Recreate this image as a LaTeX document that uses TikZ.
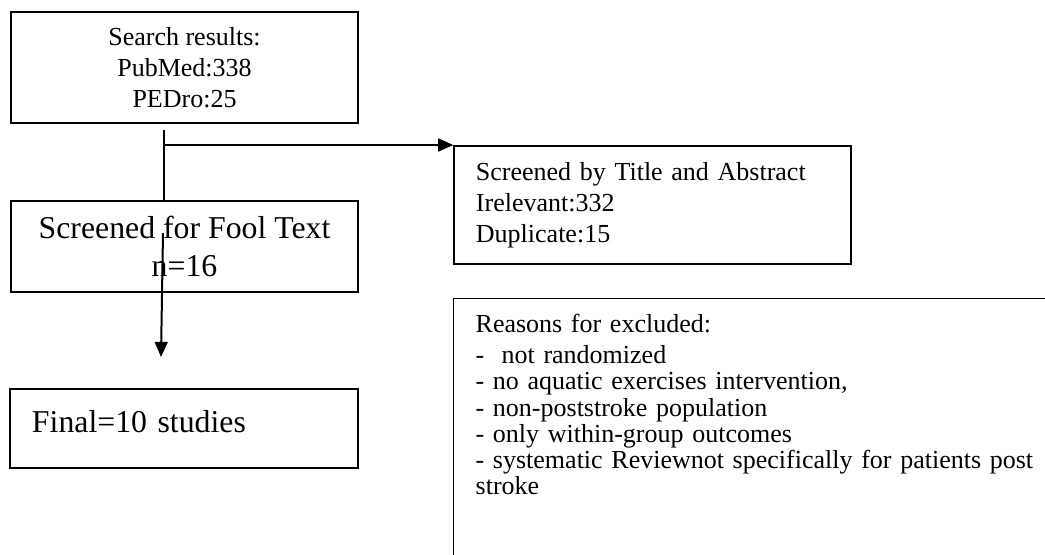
\documentclass[tikz,border=0pt]{standalone}
\usepackage{fontspec}
\setmainfont{Liberation Serif}
\usetikzlibrary{arrows.meta}

\begin{document}
\begin{tikzpicture}[x=0.45pt, y=-0.45pt,
	box/.style={draw, line width=0.6pt, inner sep=0pt},
	small/.style={font=\fontsize{11.7}{14}\selectfont},
	big/.style={font=\fontsize{14.3}{17}\selectfont},
	flow/.style={line width=0.9pt, -{Triangle[length=6.8pt, width=5.8pt]}}]
		\useasboundingbox (0,0) rectangle (1045,554);
		\clip (0,0) rectangle (1045,554);

		\node[box, small, align=center, minimum width=156.2pt, minimum height=50pt] (S) at (184.5,67.5) {Search results:\\PubMed:338\\PEDro:25};
		\node[box, big, align=center, minimum width=156.2pt, minimum height=41pt] (F) at (184.5,246.5) {Screened for Fool Text\\n=16};
		\node[box, small, align=left, text width=158.9pt, inner xsep=9.9pt, minimum height=53.1pt] (T) at (652.5,205) {Screened by Title and Abstract\\Irelevant:332\\Duplicate:15};
		\node[box, big, align=left, text width=136.8pt, inner xsep=9.9pt, minimum height=35.6pt, text depth=6.4pt] (N) at (184,428.5) {Final=10 studies};
		\node[box, font=\fontsize{11.7}{11.8}\selectfont, align=left, text width=300pt, inner xsep=9.9pt, inner ysep=7.2pt, text depth=150pt, anchor=north west] (R) at (453,298) {Reasons for excluded:\\[2pt]- \ not randomized\\- no aquatic exercises intervention,\\- non-poststroke population\\- only within-group outcomes\\- systematic Reviewnot specifically for patients post\\stroke};

		\coordinate (S_out) at (164,130);
		\coordinate (S_branch) at (165,145);
		\coordinate (F_out) at (163,233);
		\coordinate (F_tip) at (161,357);

		\draw[line width=0.9pt] (S_out) -- (S_out |- F.north);
		\draw[flow] (S_branch) -- (S_branch -| T.west);
		\draw[flow] (F_out) -- (F_tip);
\end{tikzpicture}
\end{document}
